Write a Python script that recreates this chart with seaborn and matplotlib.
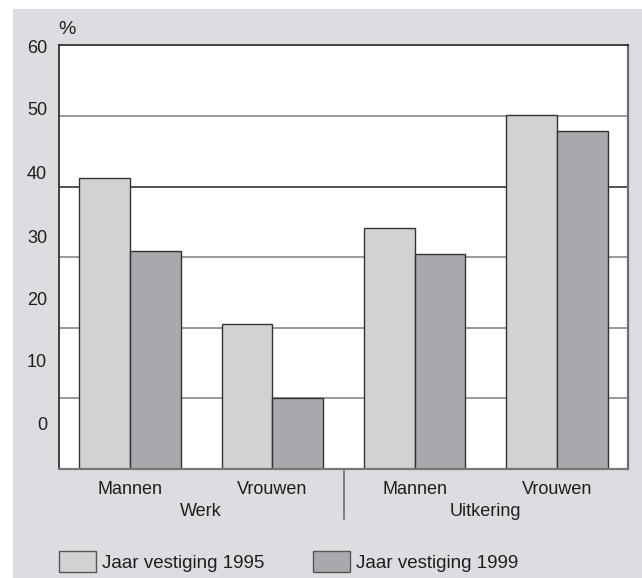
import pandas as pd
import matplotlib
matplotlib.use("Agg")
from matplotlib import pyplot as plt
from matplotlib.patches import Rectangle
import matplotlib.transforms as mtransforms
import seaborn as sns

## data
groups = ["Werk", "Werk", "Uitkering", "Uitkering"]
sexes = ["Mannen", "Vrouwen", "Mannen", "Vrouwen"]
jaar_1995 = [41.2, 20.6, 34.1, 50.1]
jaar_1999 = [30.9, 10.1, 30.4, 47.9]
series = ["Jaar vestiging 1995", "Jaar vestiging 1999"]
grid_vals = [10, 20, 30, 40, 50]
y_labels = ["0", "10", "20", "30", "40", "50", "60"]

# long table for seaborn
cats = [g + " " + s for g, s in zip(groups, sexes)]
df = pd.DataFrame({
    "cat": cats * 2,
    "value": jaar_1995 + jaar_1999,
    "series": [series[0]] * 4 + [series[1]] * 4,
})

sns.set_theme(style="white")
plt.rcParams["font.family"] = ["Liberation Sans", "DejaVu Sans"]

bg = "#dcdde0"
c95 = "#d1d2d4"
c99 = "#a8a9ad"
fs = 13
txt = "#1e1e1e"

fig = plt.figure(figsize=(6.42, 5.78), dpi=100)
fig.patch.set_facecolor("white")
fig.patches.append(Rectangle((0.0202, 0), 0.98, 0.985, transform=fig.transFigure,
                             facecolor=bg, edgecolor="none", zorder=-10))

ax = fig.add_axes([0.0919, 0.1886, 0.8863, 0.7335])
ax.set_facecolor("white")

# gridlines (the 40 line is darker in the original)
for v in grid_vals:
    ax.axhline(v, color="#222222" if v == 40 else "#7d7d7d", lw=1.1, zorder=0.5)

sns.barplot(data=df, x="cat", y="value", hue="series", order=cats,
            palette=[c95, c99], width=0.713, saturation=1,
            edgecolor="#333333", linewidth=1.0, legend=False, ax=ax)

ax.set_xlim(-0.5, 3.5)
ax.set_ylim(0, 60.05)
ax.set_xlabel("")
ax.set_ylabel("")

# y labels sit slightly off the gridlines, as in the scan
label_pos = [6.5, 15.4, 24.2, 33.0, 42.0, 51.1, 59.9]
ax.set_yticks(label_pos, y_labels)
ax.set_xticks(range(4), sexes)
ax.tick_params(axis="both", length=0, labelsize=fs, colors=txt)
ax.tick_params(axis="y", pad=8.5)
ax.tick_params(axis="x", pad=9)

for side, col, lw in [("top", "#222222", 1.2), ("left", "#222222", 1.2),
                      ("right", "#6e6e6e", 1.6), ("bottom", "#777777", 1.6)]:
    ax.spines[side].set_visible(True)
    ax.spines[side].set_color(col)
    ax.spines[side].set_linewidth(lw)

trans = mtransforms.blended_transform_factory(ax.transData, ax.transAxes)
ax.text(0.5, -0.101, "Werk", transform=trans, ha="center", va="center",
        fontsize=fs, color=txt)
ax.text(2.5, -0.101, "Uitkering", transform=trans, ha="center", va="center",
        fontsize=fs, color=txt)
ax.plot([1.5, 1.5], [0, -0.118], transform=trans, color="#777777", lw=1.3,
        clip_on=False)

fig.text(67 / 642, 1 - 30 / 578, "%", ha="center", va="center", fontsize=fs + 1,
         color=txt)

handles = [Rectangle((0, 0), 1, 1, facecolor=c95, edgecolor="#555555", lw=1.0),
           Rectangle((0, 0), 1, 1, facecolor=c99, edgecolor="#555555", lw=1.0)]
fig.legend(handles, series, loc="center left", bbox_to_anchor=(0.0919, 0.029),
           ncol=2, frameon=False, fontsize=13.5, handlelength=1.97,
           handleheight=1.33, handletextpad=0.35, columnspacing=2.56,
           borderpad=0, borderaxespad=0, labelcolor=txt)

fig.savefig("out.png", dpi=100, facecolor=fig.get_facecolor())
